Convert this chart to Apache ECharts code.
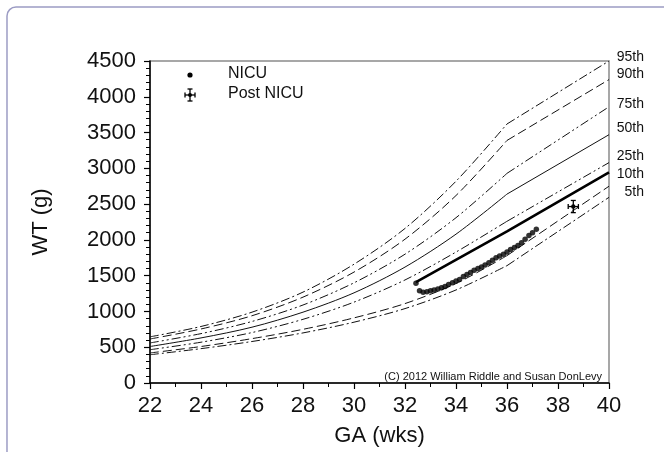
<!DOCTYPE html>
<html>
<head>
<meta charset="utf-8">
<script src="https://cdn.jsdelivr.net/npm/echarts@6/dist/echarts.min.js"></script>
<style>
  html, body { margin: 0; padding: 0; background: #fff; }
  #chart { width: 664px; height: 452px; }
</style>
</head>
<body>
<div id="chart"></div>
<script>
// Gestational age (weeks) at which the percentile curves are tabulated
const gaPoints = [22, 24, 26, 28, 30, 32, 34, 36, 40];

// Weight percentiles (g); curves bend at 36 weeks and run straight to 40
const p95 = [645, 790, 990, 1270, 1660, 2160, 2820, 3620, 4500];
const p90 = [615, 755, 940, 1200, 1550, 2010, 2620, 3390, 4240];
const p75 = [560, 690, 860, 1090, 1400, 1800, 2310, 2930, 3860];
const p50 = [510, 630, 780, 990, 1260, 1620, 2080, 2640, 3470];
const p25 = [465, 570, 705, 890, 1130, 1440, 1830, 2260, 3080];
const p10 = [420, 510, 620, 750, 910, 1110, 1390, 1780, 2750];
const p05 = [395, 480, 580, 700, 850, 1040, 1300, 1640, 2595];
const percentileLabels = ['95th', '90th', '75th', '50th', '25th', '10th', '5th'];

// Daily weights in the NICU
const nicuGA = [32.43, 32.57, 32.71, 32.86, 33.00, 33.14, 33.29, 33.43, 33.57, 33.71, 33.86,
                34.00, 34.14, 34.29, 34.43, 34.57, 34.71, 34.86, 35.00, 35.14, 35.29, 35.43,
                35.57, 35.71, 35.86, 36.00, 36.14, 36.29, 36.43, 36.57, 36.71, 36.86, 37.00, 37.15];
const nicuWT = [1395, 1290, 1268, 1275, 1290, 1300, 1315, 1330, 1350, 1375, 1400,
                1425, 1445, 1490, 1515, 1545, 1575, 1600, 1620, 1650, 1680, 1715,
                1750, 1775, 1800, 1830, 1865, 1895, 1920, 1960, 2010, 2060, 2100, 2150];

// Follow-up visit after discharge, with uncertainty in age and weight
const postGA = [38.6];
const postWT = [2466];
const postGAErr = [0.2];
const postWTErr = [85];

// Projected growth line from birth weight
const trendGA = [32.43, 36, 40];
const trendWT = [1410, 2120, 2943];

const FONT = '"Liberation Sans", Arial, Helvetica, sans-serif';
const INK = '#111';

const percentileData = [p95, p90, p75, p50, p25, p10, p05];
const dashDot = [9, 3, 2, 3];
const dashed = [9, 4];
const dashDotDot = [9, 3, 2, 3, 2, 3];
const curveStyles = [dashDot, dashed, dashDotDot, 'solid', dashDotDot, dashed, dashDot];
const labelNudge = [-4, -5, -3, -7, -6, -12, -5];

const series = [];
percentileData.forEach((vals, i) => {
  const pts = gaPoints.map((g, k) => [g, vals[k]]);
  const early = pts.filter(p => p[0] <= 36);
  const late = pts.filter(p => p[0] >= 36);
  const ls = { color: INK, width: 1, type: curveStyles[i] };
  series.push({
    type: 'line', data: early, smooth: 0.3,
    symbol: 'none', lineStyle: ls, silent: true, z: 2
  });
  series.push({
    type: 'line', name: percentileLabels[i], data: late, smooth: false,
    symbol: 'none', lineStyle: ls, silent: true, z: 2,
    endLabel: {
      show: true, formatter: percentileLabels[i], align: 'right', distance: 0,
      offset: [35, labelNudge[i]], fontFamily: FONT, fontSize: 14, color: INK
    }
  });
});

series.push({
  type: 'line', data: trendGA.map((g, k) => [g, trendWT[k]]),
  symbol: 'none', lineStyle: { color: '#000', width: 2.6 }, z: 3, silent: true
});

series.push({
  type: 'scatter', data: nicuGA.map((g, k) => [g, nicuWT[k]]),
  symbol: 'circle', symbolSize: 5.5, itemStyle: { color: '#000' }, z: 4, silent: true
});

series.push({
  type: 'custom', z: 5, silent: true,
  data: postGA.map((g, k) => [g, postWT[k], postGAErr[k], postWTErr[k]]),
  renderItem: function (params, api) {
    const x = api.value(0), y = api.value(1), dx = api.value(2), dy = api.value(3);
    const c = api.coord([x, y]);
    const l = api.coord([x - dx, y]), r = api.coord([x + dx, y]);
    const t = api.coord([x, y + dy]), b = api.coord([x, y - dy]);
    const cap = 2.5;
    const st = { stroke: '#000', lineWidth: 1.3 };
    const ln = (x1, y1, x2, y2) => ({ type: 'line', shape: { x1, y1, x2, y2 }, style: st });
    return {
      type: 'group',
      children: [
        ln(l[0], l[1], r[0], r[1]),
        ln(t[0], t[1], b[0], b[1]),
        ln(l[0], l[1] - cap, l[0], l[1] + cap),
        ln(r[0], r[1] - cap, r[0], r[1] + cap),
        ln(t[0] - cap, t[1], t[0] + cap, t[1]),
        ln(b[0] - cap, b[1], b[0] + cap, b[1]),
        { type: 'circle', shape: { cx: c[0], cy: c[1], r: 2.2 }, style: { fill: '#000' } }
      ]
    };
  }
});

const chart = echarts.init(document.getElementById('chart'), null, { renderer: 'canvas' });

chart.setOption({
  animation: false,
  backgroundColor: '#fff',
  textStyle: { fontFamily: FONT },
  grid: {
    left: 150, right: 55, top: 61, bottom: 68,
    show: true, borderColor: '#8a8a8a', borderWidth: 1.5, backgroundColor: 'transparent'
  },
  xAxis: {
    type: 'value', min: 22, max: 40, interval: 2,
    name: 'GA (wks)', nameLocation: 'middle', nameGap: 42,
    nameTextStyle: { fontFamily: FONT, fontSize: 22, color: INK },
    axisLine: { show: true, lineStyle: { color: '#000', width: 1.5 } },
    axisTick: { show: true, inside: false, length: 6, lineStyle: { color: '#000', width: 1.2 } },
    minorTick: { show: true, splitNumber: 2, length: 4, lineStyle: { color: '#000', width: 1 } },
    splitLine: { show: false },
    axisLabel: { fontFamily: FONT, fontSize: 22, color: INK, margin: 12 }
  },
  yAxis: {
    type: 'value', min: 0, max: 4500, interval: 500,
    name: 'WT (g)', nameLocation: 'middle', nameGap: 98,
    nameTextStyle: { fontFamily: FONT, fontSize: 22, color: INK },
    axisLine: { show: true, lineStyle: { color: '#000', width: 1.5 } },
    axisTick: { show: true, inside: false, length: 6, lineStyle: { color: '#000', width: 1.2 } },
    minorTick: { show: true, splitNumber: 5, length: 4, lineStyle: { color: '#000', width: 1 } },
    splitLine: { show: false },
    axisLabel: { fontFamily: FONT, fontSize: 22, color: INK, margin: 14, formatter: v => String(v) }
  },
  graphic: [
    {
      type: 'rect', z: -10, silent: true,
      shape: { x: 7, y: 7, width: 720, height: 520, r: 9 },
      style: { fill: 'none', stroke: '#9c9cc4', lineWidth: 1.5 }
    },
    // legend: NICU dot
    { type: 'circle', shape: { cx: 190, cy: 75, r: 2.6 }, style: { fill: '#000' } },
    { type: 'text', left: 228, top: 66, style: { text: 'NICU', font: '16px ' + FONT, fill: INK } },
    // legend: Post NICU cross with caps
    {
      type: 'group', children: [
        { type: 'line', shape: { x1: 185, y1: 95, x2: 195, y2: 95 }, style: { stroke: '#000', lineWidth: 1.3 } },
        { type: 'line', shape: { x1: 190, y1: 89, x2: 190, y2: 101 }, style: { stroke: '#000', lineWidth: 1.3 } },
        { type: 'line', shape: { x1: 185, y1: 92.5, x2: 185, y2: 97.5 }, style: { stroke: '#000', lineWidth: 1.3 } },
        { type: 'line', shape: { x1: 195, y1: 92.5, x2: 195, y2: 97.5 }, style: { stroke: '#000', lineWidth: 1.3 } },
        { type: 'line', shape: { x1: 187.5, y1: 89, x2: 192.5, y2: 89 }, style: { stroke: '#000', lineWidth: 1.3 } },
        { type: 'line', shape: { x1: 187.5, y1: 101, x2: 192.5, y2: 101 }, style: { stroke: '#000', lineWidth: 1.3 } },
        { type: 'circle', shape: { cx: 190, cy: 95, r: 2 }, style: { fill: '#000' } }
      ]
    },
    { type: 'text', left: 228, top: 86, style: { text: 'Post NICU', font: '16px ' + FONT, fill: INK } },
    {
      type: 'text', right: 62, top: 371,
      style: { text: '(C) 2012 William Riddle and Susan DonLevy', font: '11px ' + FONT, fill: INK }
    }
  ],
  series: series
});
</script>
</body>
</html>
